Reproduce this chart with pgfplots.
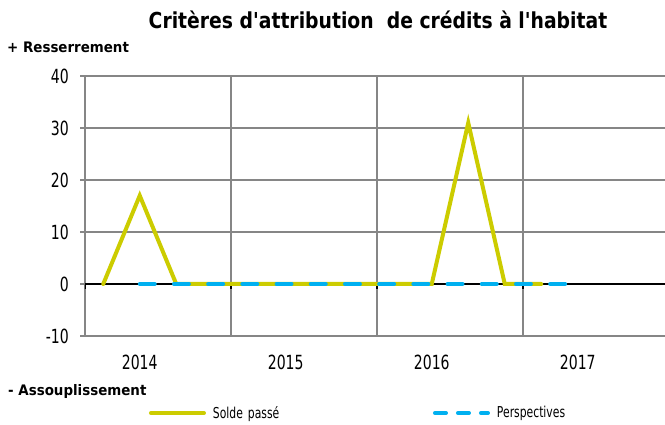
\documentclass[border=0pt]{standalone}
\usepackage{fontspec}
\setmainfont{DejaVu Sans}[FakeStretch=0.72]
\newfontfamily\titlefont{DejaVu Sans}[FakeStretch=0.854, Ligatures=TeXOff]
\newfontfamily\labfont{DejaVu Sans}[FakeStretch=0.925, Ligatures=TeXOff]
\newfontfamily\legfont{DejaVu Sans}[FakeStretch=0.72]
\usepackage{pgfplots}
\pgfplotsset{compat=1.18}
\definecolor{solde}{RGB}{204,204,0}
\definecolor{persp}{RGB}{0,176,240}
\definecolor{gridc}{RGB}{134,134,134}

\begin{document}
\begin{tikzpicture}[x=1pt,y=1pt]
\path[use as bounding box] (0,0) rectangle (665,425);
\begin{axis}[
  at={(85pt,89pt)}, anchor=south west,
  width=580pt, height=260pt, scale only axis,
  xmin=-0.5, xmax=15.39, ymin=-10, ymax=40,
  axis x line*=bottom, axis y line*=left,
  x axis line style={draw=none},
  y axis line style={draw=gridc, line width=1.2pt, -},
  ytick={-10,0,10,20,30,40},
  ymajorgrids,
  grid style={draw=gridc, line width=1.2pt},
  xtick={1,5,9,13}, xticklabels={2014,2015,2016,2017},
  x tick style={draw=none},
  extra x ticks={3.5,7.5,11.5}, extra x tick labels={},
  extra x tick style={grid=major, x tick style={draw=none}},
  y tick style={draw=gridc, line width=1.2pt},
  tick align=outside, major tick length=5pt,
  /pgf/number format/assume math mode=true,
  ticklabel style={font=\fontsize{19.5}{20}\selectfont},
  yticklabel style={inner sep=0pt, xshift=-11pt},
  xticklabel style={inner sep=0pt, yshift=-14pt},
  legend columns=2,
  legend cell align=left,
  legend image code/.code={\draw[#1] (0pt,0pt) -- (53pt,0pt);},
  legend style={at={(axis description cs:0.1103,-0.2962)}, anchor=west,
    draw=none, fill=none, inner sep=0pt, outer sep=0pt,
    /tikz/every odd column/.append style={column sep=7pt},
    nodes={inner sep=0pt, text width=220pt, font=\legfont\fontsize{15}{16}\selectfont}},
]
\draw[black, line width=1.3pt] (axis cs:-0.5,0) -- (axis cs:15.39,0);
\draw[black, line width=1.2pt] (axis cs:-0.5,0) -- ++(0pt,-5pt);
\draw[black, line width=1.2pt] (axis cs:3.5,0) -- ++(0pt,-5pt);
\draw[black, line width=1.2pt] (axis cs:7.5,0) -- ++(0pt,-5pt);
\draw[black, line width=1.2pt] (axis cs:11.5,0) -- ++(0pt,-5pt);

\addplot[solde, line width=4pt, line cap=round, forget plot] coordinates {
 (0,0) (1,17) (2,0) (3,0) (4,0) (5,0) (6,0) (7,0) (8,0) (9,0) (10,31) (11,0) (12,0)};
\addplot[persp, line width=4pt, line cap=round, dash pattern=on 15pt off 19.2pt, forget plot] coordinates {
 (1,0) (2,0) (3,0) (4,0) (5,0) (6,0) (7,0) (8,0) (9,0) (10,0) (11,0) (12,0) (13,0)};

\addlegendimage{solde, line width=4pt, line cap=round}
\addlegendentry{Solde passé}
\addlegendimage{persp, line width=4pt, line cap=round, dash pattern=on 11pt off 12pt}
\addlegendentry{Perspectives}
\end{axis}
\node[font=\titlefont\bfseries\fontsize{22}{26}\selectfont, inner sep=0pt] at (378,405) {Critères d'attribution\ \ de crédits à l'habitat};
\node[anchor=west, font=\labfont\bfseries\fontsize{14.5}{16}\selectfont, inner sep=0pt] at (7,378) {+ Resserrement};
\node[anchor=west, font=\labfont\bfseries\fontsize{14.5}{16}\selectfont, inner sep=0pt] at (8,33) {- Assouplissement};
\end{tikzpicture}
\end{document}
